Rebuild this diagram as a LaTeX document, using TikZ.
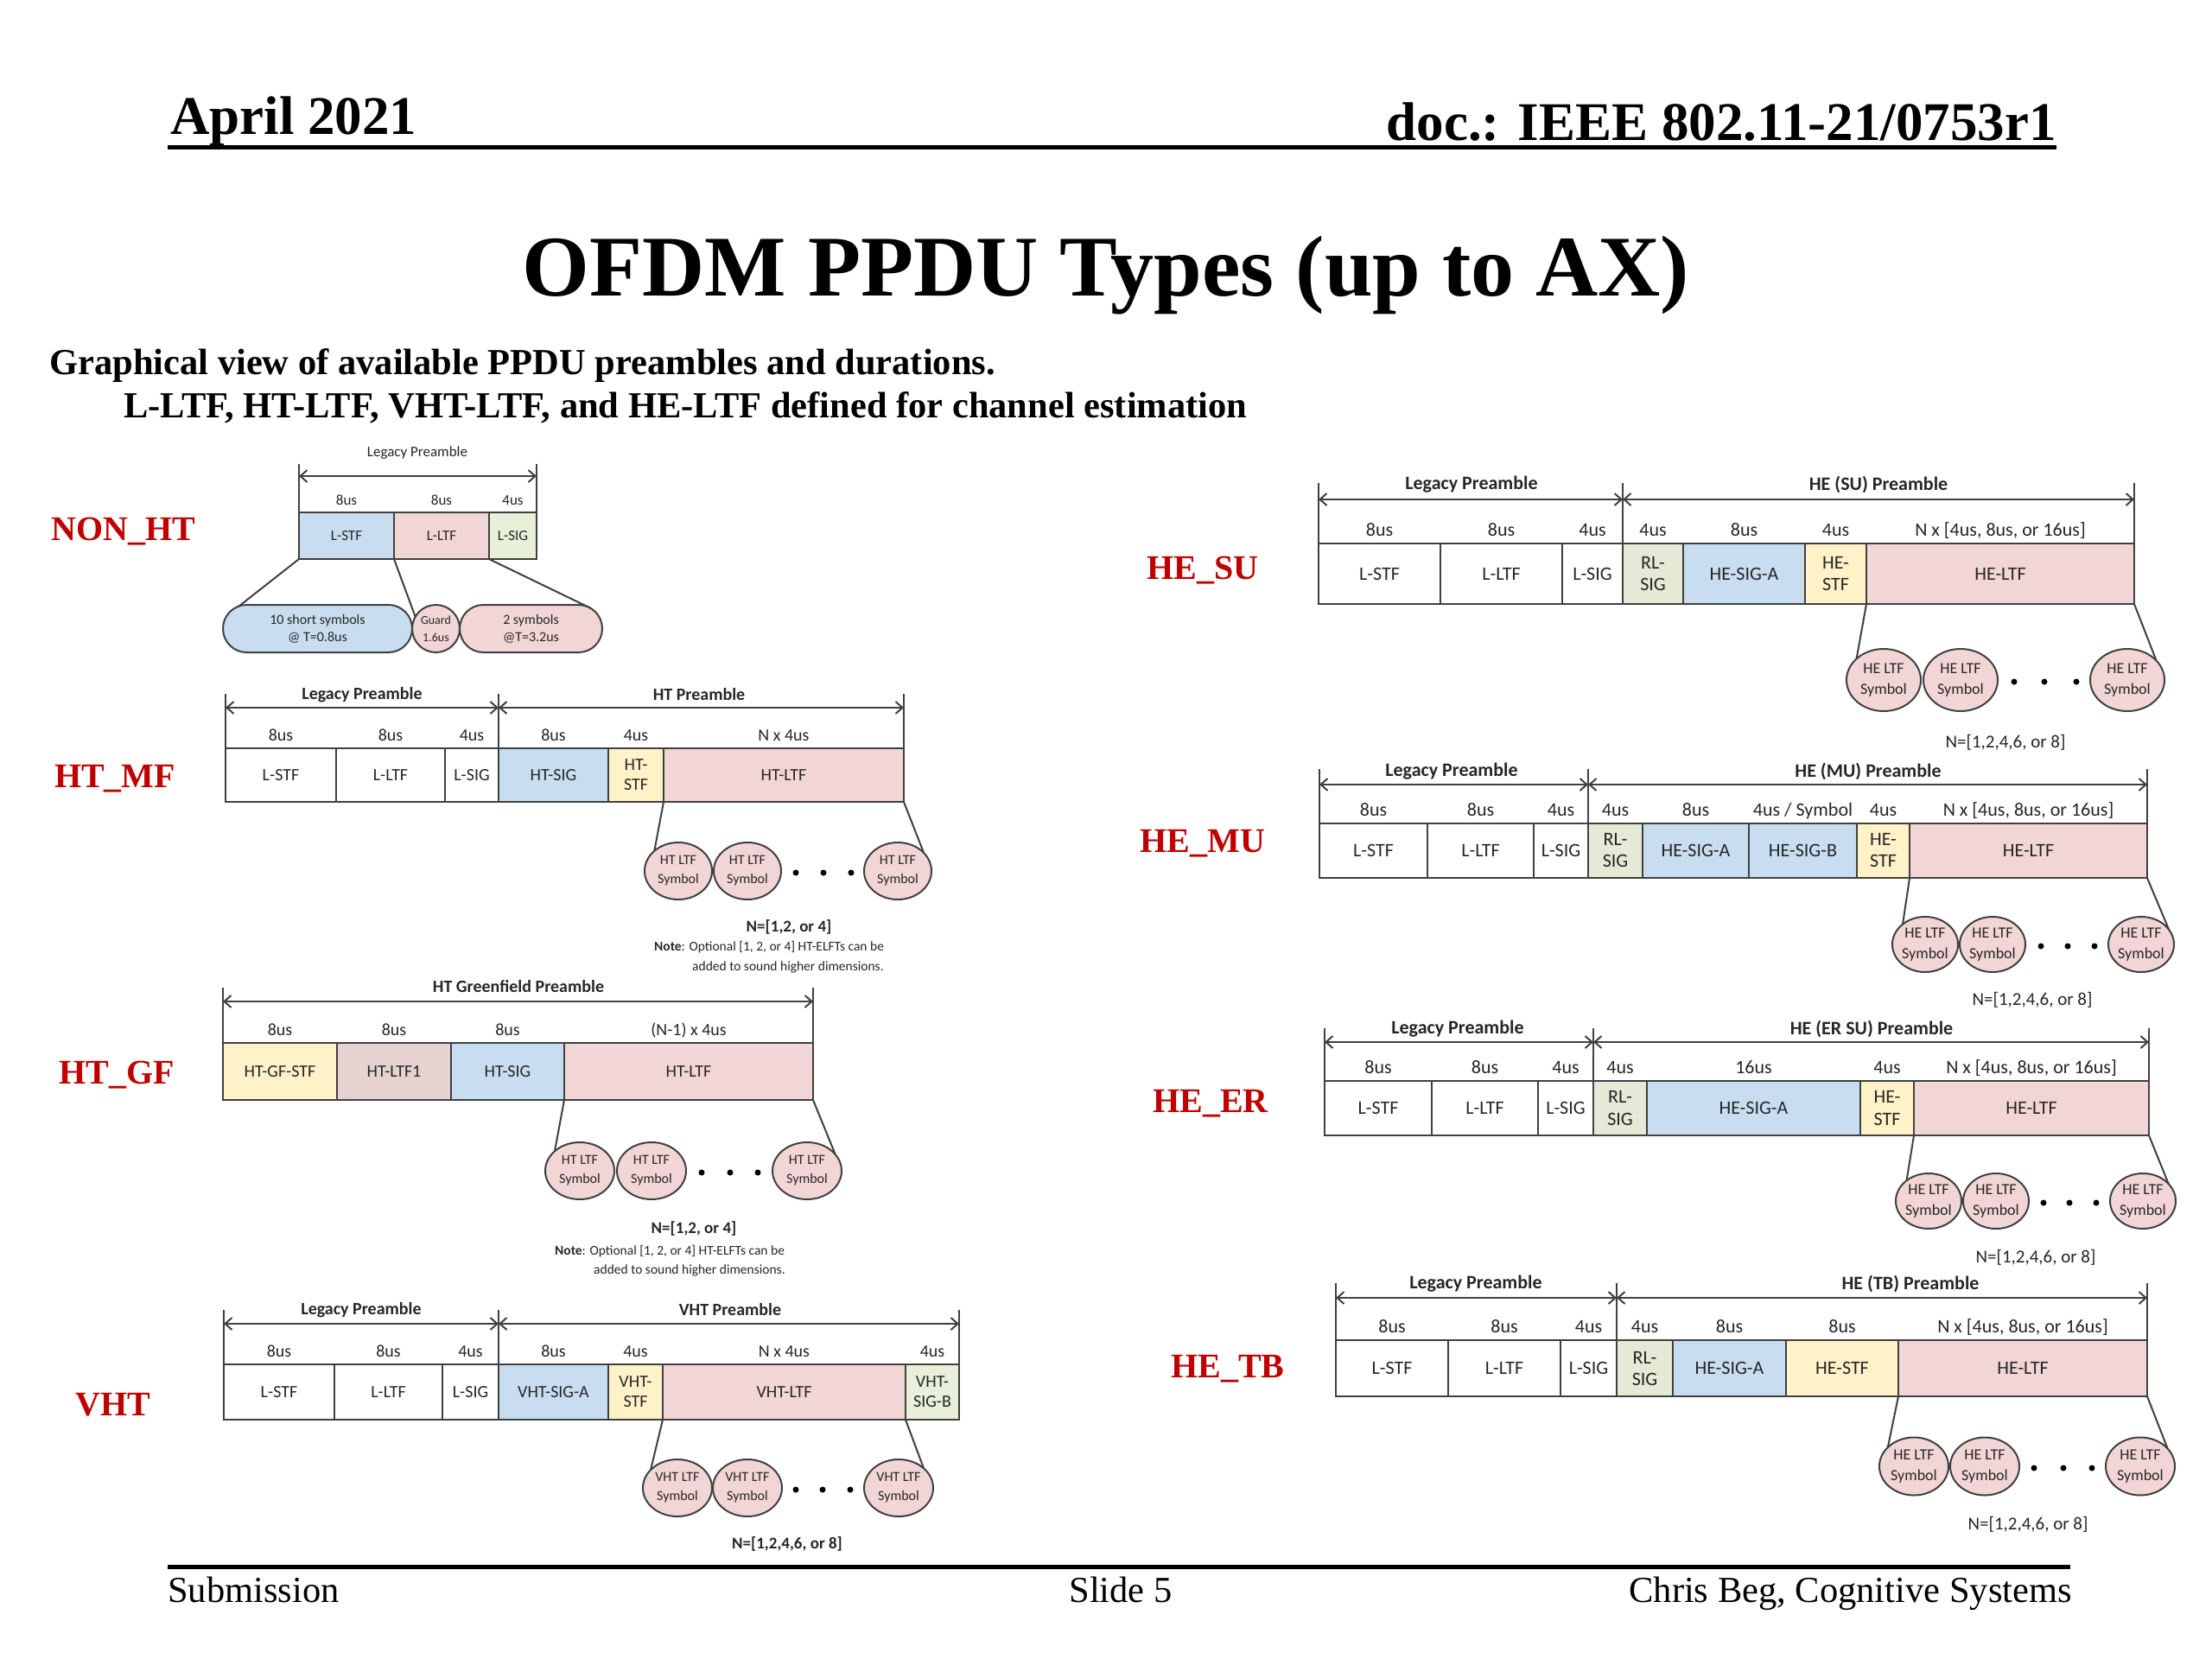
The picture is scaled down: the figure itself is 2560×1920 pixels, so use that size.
\documentclass[tikz,border=0pt]{standalone}
\usepackage{fontspec}
\setmainfont{Liberation Serif}
\newfontfamily\carlito{Carlito}
\usetikzlibrary{arrows.meta,shapes.geometric,shapes.misc}

\definecolor{cblue}{RGB}{200,222,240}
\definecolor{cpink}{RGB}{242,214,214}
\definecolor{cyellow}{RGB}{255,241,200}
\definecolor{cgreen}{RGB}{232,240,218}
\definecolor{crlsig}{RGB}{228,234,214}
\definecolor{crose}{RGB}{230,211,209}
\definecolor{cline}{RGB}{64,64,64}
\definecolor{ctext}{RGB}{38,38,38}
\definecolor{cred}{RGB}{192,0,0}

\newcommand{\fs}[2]{\fontsize{#1}{#2}\selectfont}

\tikzset{
 cellbox/.style={draw=cline,line width=2.5pt,rectangle,inner sep=0pt,outer sep=0pt,align=center,text=ctext,font=\carlito\fs{20}{23}},
 durlab/.style={anchor=base,inner sep=0pt,text=ctext,font=\carlito\fs{20}{24}},
 ptitle/.style={inner sep=0pt,text=ctext,font=\carlito\bfseries\fs{20}{24}},
 dimline/.style={draw=cline,line width=2pt,{Straight Barb[length=8pt,width=14pt]}-{Straight Barb[length=8pt,width=14pt]}},
 tickline/.style={draw=cline,line width=2pt},
 zoomline/.style={draw=cline,line width=2pt},
 symshape/.style={ellipse,draw=cline,line width=2pt,fill=cpink,inner sep=0pt,outer sep=0pt},
 symtext/.style={align=center,inner sep=0pt,text=ctext,font=\carlito\fs{16}{22}},
 dotmark/.style={circle,fill=black,inner sep=0pt,minimum size=7pt},
 nlab/.style={inner sep=0pt,text=ctext,font=\carlito\bfseries\fs{19}{23}},
 nlabhe/.style={inner sep=0pt,text=ctext,font=\carlito\fs{21}{24}},
 notelab/.style={anchor=base west,inner sep=0pt,text=ctext,font=\carlito\fs{15.5}{20}},
 typelab/.style={inner sep=0pt,text=cred,font=\bfseries\fs{40}{46}},
 stadium/.style={rounded rectangle,draw=cline,line width=2pt,inner sep=0pt,outer sep=0pt,align=center,text=ctext,font=\carlito\fs{16}{20}},
}

% name, x1, x2, y1, y2, style, text, duration
\newcommand{\pcell}[8]{%
  \node[cellbox,#6,minimum width={(#3-#2)*1pt},minimum height={(#5-#4)*1pt}] (#1) at ({(#2+#3)/2},{(#4+#5)/2}) {#7};
  \node[durlab] (#1-d) at ({(#2+#3)/2},{#4-9}) {#8};}
% name, x, y, w, h, first line
\newcommand{\symb}[6]{%
  \node[symshape,minimum width=#4pt,minimum height=#5pt] (#1) at (#2,#3) {};
  \node[symtext] (#1-t) at (#1) {#6\\Symbol};}

\begin{document}
\begin{tikzpicture}[x=1pt,y=-1pt]
\fill[white] (0,0) rectangle (2560,1920);
\useasboundingbox (0,0) rectangle (2560,1920);

% ---------------- header ----------------
\node[anchor=base west,inner sep=0pt,font=\bfseries\fs{63}{70}] (hdrdate) at (197,155) {April 2021};
\node[anchor=base east,inner sep=0pt,font=\bfseries\fs{63}{70}] (hdrdoc) at (2380,162) {doc.: IEEE 802.11-21/0753r1};
\coordinate (hdrL) at (194,170);
\coordinate (hdrR) at (2380,170);
\draw[line width=5pt] (hdrL) -- (hdrR);
\node[anchor=base,inner sep=0pt,font=\bfseries\fs{100}{110}] (title) at (1280,342) {OFDM PPDU Types (up to AX)};
\node[anchor=base west,inner sep=0pt,font=\bfseries\fs{42.5}{48}] (sub1) at (57,433) {Graphical view of available PPDU preambles and durations.};
\node[anchor=base west,inner sep=0pt,font=\bfseries\fs{42.5}{48}] (sub2) at (143,483) {L-LTF, HT-LTF, VHT-LTF, and HE-LTF defined for channel estimation};

% ---------------- footer ----------------
\coordinate (ftrL) at (194,1813);
\coordinate (ftrR) at (2396,1813);
\draw[line width=5pt] (ftrL) -- (ftrR);
\node[anchor=base west,inner sep=0pt,font=\fs{42.5}{48}] (ftr1) at (194,1854) {Submission};
\node[anchor=base,inner sep=0pt,font=\fs{42.5}{48}] (ftr2) at (1297,1854) {Slide 5};
\node[anchor=base east,inner sep=0pt,font=\fs{42.5}{48}] (ftr3) at (2398,1854) {Chris Beg, Cognitive Systems};

% ---------------- type labels ----------------
\node[typelab] (lbNONHT) at (143,615) {NON\_HT};
\node[typelab] (lbHTMF) at (133,901) {HT\_MF};
\node[typelab] (lbHTGF) at (135,1244) {HT\_GF};
\node[typelab] (lbVHT) at (131,1626) {VHT};
\node[typelab] (lbHESU) at (1392,660) {HE\_SU};
\node[typelab] (lbHEMU) at (1392,976) {HE\_MU};
\node[typelab] (lbHEER) at (1401,1277) {HE\_ER};
\node[typelab] (lbHETB) at (1421,1584) {HE\_TB};

% ================= NON_HT =================
\begin{scope}[cellbox/.append style={font=\carlito\fs{17}{20}},durlab/.append style={font=\carlito\fs{17}{20}}]
\node[inner sep=0pt,text=ctext,font=\carlito\fs{17}{20}] (nh-title) at (483,524) {Legacy Preamble};
\pcell{nh-lstf}{346}{456}{593}{647}{fill=cblue}{L-STF}{8us}
\pcell{nh-lltf}{456}{566}{593}{647}{fill=cpink}{L-LTF}{8us}
\pcell{nh-lsig}{566}{621}{593}{647}{fill=cgreen}{L-SIG}{4us}
\coordinate (nh-a1) at (346,551);
\coordinate (nh-a2) at (621,551);
\draw[dimline] (nh-a1) -- (nh-a2);
\coordinate (nh-t1) at (346,537);
\coordinate (nh-t2) at (621,537);
\draw[tickline] (nh-t1) -- (nh-lstf.north west);
\draw[tickline] (nh-t2) -- (nh-lsig.north east);
\node[stadium,fill=cblue,minimum width=219pt,minimum height=55pt] (nh-s1) at (367.5,727.5) {10 short symbols\\@ T=0.8us};
\node[circle,draw=cline,line width=2pt,fill=cpink,inner sep=0pt,outer sep=0pt,minimum size=55pt] (nh-g) at (504.5,727.5) {};
\node[inner sep=0pt,align=center,text=ctext,font=\carlito\fs{14}{20}] (nh-gt) at (nh-g) {Guard\\1.6us};
\node[stadium,fill=cpink,minimum width=165pt,minimum height=55pt] (nh-s2) at (614.5,727.5) {2 symbols\\@T=3.2us};
\draw[zoomline] (nh-lstf.south west) -- (nh-s1.164);
\draw[zoomline] (nh-lstf.south east) -- (nh-g.150);
\draw[zoomline] (nh-lltf.south east) -- (nh-s2.19);
\end{scope}

% ================= HT_MF =================
\node[ptitle] (mf-lp) at (419,804) {Legacy Preamble};
\node[ptitle] (mf-hp) at (809,804) {HT Preamble};
\pcell{mf-lstf}{261}{389}{866}{928}{fill=white}{L-STF}{8us}
\pcell{mf-lltf}{389}{515}{866}{928}{fill=white}{L-LTF}{8us}
\pcell{mf-lsig}{515}{577}{866}{928}{fill=white}{L-SIG}{4us}
\pcell{mf-hsig}{577}{704}{866}{928}{fill=cblue}{HT-SIG}{8us}
\pcell{mf-hstf}{704}{768}{866}{928}{fill=cyellow}{HT-\\STF}{4us}
\pcell{mf-hltf}{768}{1046}{866}{928}{fill=cpink}{HT-LTF}{N x 4us}
\coordinate (mf-a1) at (261,819);
\coordinate (mf-a2) at (577,819);
\coordinate (mf-a3) at (1046,819);
\draw[dimline] (mf-a1) -- (mf-a2);
\draw[dimline] (mf-a2) -- (mf-a3);
\coordinate (mf-t1) at (261,803);
\coordinate (mf-t2) at (577,803);
\coordinate (mf-t3) at (1046,803);
\draw[tickline] (mf-t1) -- (mf-lstf.north west);
\draw[tickline] (mf-t2) -- (mf-hsig.north west);
\draw[tickline] (mf-t3) -- (mf-hltf.north east);
\symb{mf-c1}{785}{1008}{78}{66}{HT LTF}
\symb{mf-c2}{865}{1008}{78}{66}{HT LTF}
\symb{mf-c3}{1039}{1008}{78}{66}{HT LTF}
\node[dotmark] (mf-d1) at (921,1010) {};
\node[dotmark] (mf-d2) at (953,1010) {};
\node[dotmark] (mf-d3) at (985,1010) {};
\draw[zoomline] (mf-hltf.south west) -- (mf-c1.140);
\draw[zoomline] (mf-hltf.south east) -- (mf-c3.35);
\node[nlab] (mf-n) at (913,1073) {N=[1,2, or 4]};
\node[notelab] (mf-note1) at (757,1100) {\textbf{Note}: Optional [1, 2, or 4] HT-ELFTs can be};
\node[notelab] (mf-note2) at (801,1123) {added to sound higher dimensions.};

% ================= HT_GF =================
\node[ptitle] (gf-p) at (600,1142) {HT Greenfield Preamble};
\pcell{gf-stf}{258}{390}{1207}{1273}{fill=cyellow}{HT-GF-STF}{8us}
\pcell{gf-ltf1}{390}{522}{1207}{1273}{fill=crose}{HT-LTF1}{8us}
\pcell{gf-sig}{522}{653}{1207}{1273}{fill=cblue}{HT-SIG}{8us}
\pcell{gf-ltf}{653}{941}{1207}{1273}{fill=cpink}{HT-LTF}{(N-1) x 4us}
\coordinate (gf-a1) at (258,1159);
\coordinate (gf-a2) at (941,1159);
\draw[dimline] (gf-a1) -- (gf-a2);
\coordinate (gf-t1) at (258,1143);
\coordinate (gf-t2) at (941,1143);
\draw[tickline] (gf-t1) -- (gf-stf.north west);
\draw[tickline] (gf-t2) -- (gf-ltf.north east);
\symb{gf-c1}{671}{1355}{80}{66}{HT LTF}
\symb{gf-c2}{754}{1355}{80}{66}{HT LTF}
\symb{gf-c3}{934}{1355}{80}{66}{HT LTF}
\node[dotmark] (gf-d1) at (812,1357) {};
\node[dotmark] (gf-d2) at (845,1357) {};
\node[dotmark] (gf-d3) at (877,1357) {};
\draw[zoomline] (gf-ltf.south west) -- (gf-c1.142);
\draw[zoomline] (gf-ltf.south east) -- (gf-c3.30);
\node[nlab] (gf-n) at (803,1422) {N=[1,2, or 4]};
\node[notelab] (gf-note1) at (642,1452) {\textbf{Note}: Optional [1, 2, or 4] HT-ELFTs can be};
\node[notelab] (gf-note2) at (687,1474) {added to sound higher dimensions.};

% ================= VHT =================
\node[ptitle] (vh-lp) at (418,1516) {Legacy Preamble};
\node[ptitle] (vh-vp) at (845,1516) {VHT Preamble};
\pcell{vh-lstf}{259}{387}{1579}{1643}{fill=white}{L-STF}{8us}
\pcell{vh-lltf}{387}{512}{1579}{1643}{fill=white}{L-LTF}{8us}
\pcell{vh-lsig}{512}{577}{1579}{1643}{fill=white}{L-SIG}{4us}
\pcell{vh-siga}{577}{704}{1579}{1643}{fill=cblue}{VHT-SIG-A}{8us}
\pcell{vh-stf}{704}{767}{1579}{1643}{fill=cyellow}{VHT-\\STF}{4us}
\pcell{vh-ltf}{767}{1048}{1579}{1643}{fill=cpink}{VHT-LTF}{N x 4us}
\pcell{vh-sigb}{1048}{1110}{1579}{1643}{fill=cgreen}{VHT-\\SIG-B}{4us}
\coordinate (vh-a1) at (259,1532);
\coordinate (vh-a2) at (577,1532);
\coordinate (vh-a3) at (1110,1532);
\draw[dimline] (vh-a1) -- (vh-a2);
\draw[dimline] (vh-a2) -- (vh-a3);
\coordinate (vh-t1) at (259,1516);
\coordinate (vh-t2) at (577,1516);
\coordinate (vh-t3) at (1110,1516);
\draw[tickline] (vh-t1) -- (vh-lstf.north west);
\draw[tickline] (vh-t2) -- (vh-siga.north west);
\draw[tickline] (vh-t3) -- (vh-sigb.north east);
\symb{vh-c1}{784}{1722}{80}{66}{VHT LTF}
\symb{vh-c2}{865}{1722}{80}{66}{VHT LTF}
\symb{vh-c3}{1040}{1722}{80}{66}{VHT LTF}
\node[dotmark] (vh-d1) at (921,1724) {};
\node[dotmark] (vh-d2) at (952,1724) {};
\node[dotmark] (vh-d3) at (984,1724) {};
\draw[zoomline] (vh-ltf.south west) -- (vh-c1.146);
\draw[zoomline] (vh-ltf.south east) -- (vh-c3.38);
\node[nlab] (vh-n) at (911,1787) {N=[1,2,4,6, or 8]};

% ================= HE diagrams =================
\begin{scope}[cellbox/.append style={font=\carlito\fs{22}{25}},durlab/.append style={font=\carlito\fs{22}{25}},ptitle/.append style={font=\carlito\bfseries\fs{22}{25}},symtext/.append style={font=\carlito\fs{18}{24}}]

% ---- HE_SU ----
\node[ptitle] (su-lp) at (1703,561) {Legacy Preamble};
\node[ptitle] (su-hp) at (2174,561) {HE (SU) Preamble};
\pcell{su-lstf}{1526}{1667}{629}{699}{fill=white}{L-STF}{8us}
\pcell{su-lltf}{1667}{1808}{629}{699}{fill=white}{L-LTF}{8us}
\pcell{su-lsig}{1808}{1878}{629}{699}{fill=white}{L-SIG}{4us}
\pcell{su-rl}{1878}{1948}{629}{699}{fill=crlsig}{RL-\\SIG}{4us}
\pcell{su-sa}{1948}{2089}{629}{699}{fill=cblue}{HE-SIG-A}{8us}
\pcell{su-stf}{2089}{2160}{629}{699}{fill=cyellow}{HE-\\STF}{4us}
\pcell{su-ltf}{2160}{2470}{629}{699}{fill=cpink}{HE-LTF}{N x [4us, 8us, or 16us]}
\coordinate (su-a1) at (1526,578);
\coordinate (su-a2) at (1878,578);
\coordinate (su-a3) at (2470,578);
\draw[dimline] (su-a1) -- (su-a2);
\draw[dimline] (su-a2) -- (su-a3);
\coordinate (su-t1) at (1526,559);
\coordinate (su-t2) at (1878,559);
\coordinate (su-t3) at (2470,559);
\draw[tickline] (su-t1) -- (su-lstf.north west);
\draw[tickline] (su-t2) -- (su-rl.north west);
\draw[tickline] (su-t3) -- (su-ltf.north east);
\symb{su-c1}{2180}{787}{86}{72}{HE LTF}
\symb{su-c2}{2269}{787}{86}{72}{HE LTF}
\symb{su-c3}{2462}{787}{86}{72}{HE LTF}
\node[dotmark] (su-d1) at (2331,789) {};
\node[dotmark] (su-d2) at (2366,789) {};
\node[dotmark] (su-d3) at (2403,789) {};
\draw[zoomline] (su-ltf.south west) -- (su-c1.142);
\draw[zoomline] (su-ltf.south east) -- (su-c3.34);
\node[nlabhe] (su-n) at (2321,859) {N=[1,2,4,6, or 8]};

% ---- HE_MU ----
\node[ptitle] (mu-lp) at (1680,893) {Legacy Preamble};
\node[ptitle] (mu-hp) at (2162,893) {HE (MU) Preamble};
\pcell{mu-lstf}{1527}{1652}{953}{1016}{fill=white}{L-STF}{8us}
\pcell{mu-lltf}{1652}{1775}{953}{1016}{fill=white}{L-LTF}{8us}
\pcell{mu-lsig}{1775}{1838}{953}{1016}{fill=white}{L-SIG}{4us}
\pcell{mu-rl}{1838}{1901}{953}{1016}{fill=crlsig}{RL-\\SIG}{4us}
\pcell{mu-sa}{1901}{2024}{953}{1016}{fill=cblue}{HE-SIG-A}{8us}
\pcell{mu-sb}{2024}{2149}{953}{1016}{fill=cblue}{HE-SIG-B}{4us / Symbol}
\pcell{mu-stf}{2149}{2210}{953}{1016}{fill=cyellow}{HE-\\STF}{4us}
\pcell{mu-ltf}{2210}{2485}{953}{1016}{fill=cpink}{HE-LTF}{N x [4us, 8us, or 16us]}
\coordinate (mu-a1) at (1527,908);
\coordinate (mu-a2) at (1838,908);
\coordinate (mu-a3) at (2485,908);
\draw[dimline] (mu-a1) -- (mu-a2);
\draw[dimline] (mu-a2) -- (mu-a3);
\coordinate (mu-t1) at (1527,890);
\coordinate (mu-t2) at (1838,890);
\coordinate (mu-t3) at (2485,890);
\draw[tickline] (mu-t1) -- (mu-lstf.north west);
\draw[tickline] (mu-t2) -- (mu-rl.north west);
\draw[tickline] (mu-t3) -- (mu-ltf.north east);
\symb{mu-c1}{2228}{1093}{76}{64}{HE LTF}
\symb{mu-c2}{2306}{1093}{76}{64}{HE LTF}
\symb{mu-c3}{2478}{1093}{76}{64}{HE LTF}
\node[dotmark] (mu-d1) at (2362,1095) {};
\node[dotmark] (mu-d2) at (2393,1095) {};
\node[dotmark] (mu-d3) at (2424,1095) {};
\draw[zoomline] (mu-ltf.south west) -- (mu-c1.138);
\draw[zoomline] (mu-ltf.south east) -- (mu-c3.28);
\node[nlabhe] (mu-n) at (2352,1157) {N=[1,2,4,6, or 8]};

% ---- HE_ER ----
\node[ptitle] (er-lp) at (1687,1191) {Legacy Preamble};
\node[ptitle] (er-hp) at (2166,1191) {HE (ER SU) Preamble};
\pcell{er-lstf}{1533}{1657}{1251}{1314}{fill=white}{L-STF}{8us}
\pcell{er-lltf}{1657}{1780}{1251}{1314}{fill=white}{L-LTF}{8us}
\pcell{er-lsig}{1780}{1844}{1251}{1314}{fill=white}{L-SIG}{4us}
\pcell{er-rl}{1844}{1906}{1251}{1314}{fill=crlsig}{RL-\\SIG}{4us}
\pcell{er-sa}{1906}{2153}{1251}{1314}{fill=cblue}{HE-SIG-A}{16us}
\pcell{er-stf}{2153}{2215}{1251}{1314}{fill=cyellow}{HE-\\STF}{4us}
\pcell{er-ltf}{2215}{2487}{1251}{1314}{fill=cpink}{HE-LTF}{N x [4us, 8us, or 16us]}
\coordinate (er-a1) at (1533,1206);
\coordinate (er-a2) at (1844,1206);
\coordinate (er-a3) at (2487,1206);
\draw[dimline] (er-a1) -- (er-a2);
\draw[dimline] (er-a2) -- (er-a3);
\coordinate (er-t1) at (1533,1190);
\coordinate (er-t2) at (1844,1190);
\coordinate (er-t3) at (2487,1190);
\draw[tickline] (er-t1) -- (er-lstf.north west);
\draw[tickline] (er-t2) -- (er-rl.north west);
\draw[tickline] (er-t3) -- (er-ltf.north east);
\symb{er-c1}{2232}{1390}{76}{64}{HE LTF}
\symb{er-c2}{2310}{1390}{76}{64}{HE LTF}
\symb{er-c3}{2480}{1390}{76}{64}{HE LTF}
\node[dotmark] (er-d1) at (2365,1392) {};
\node[dotmark] (er-d2) at (2395,1392) {};
\node[dotmark] (er-d3) at (2426,1392) {};
\draw[zoomline] (er-ltf.south west) -- (er-c1.137);
\draw[zoomline] (er-ltf.south east) -- (er-c3.34);
\node[nlabhe] (er-n) at (2356,1455) {N=[1,2,4,6, or 8]};

% ---- HE_TB ----
\node[ptitle] (tb-lp) at (1708,1486) {Legacy Preamble};
\node[ptitle] (tb-hp) at (2211,1486) {HE (TB) Preamble};
\pcell{tb-lstf}{1546}{1676}{1551}{1616}{fill=white}{L-STF}{8us}
\pcell{tb-lltf}{1676}{1806}{1551}{1616}{fill=white}{L-LTF}{8us}
\pcell{tb-lsig}{1806}{1871}{1551}{1616}{fill=white}{L-SIG}{4us}
\pcell{tb-rl}{1871}{1936}{1551}{1616}{fill=crlsig}{RL-\\SIG}{4us}
\pcell{tb-sa}{1936}{2067}{1551}{1616}{fill=cblue}{HE-SIG-A}{8us}
\pcell{tb-stf}{2067}{2197}{1551}{1616}{fill=cyellow}{HE-STF}{8us}
\pcell{tb-ltf}{2197}{2485}{1551}{1616}{fill=cpink}{HE-LTF}{N x [4us, 8us, or 16us]}
\coordinate (tb-a1) at (1546,1502);
\coordinate (tb-a2) at (1871,1502);
\coordinate (tb-a3) at (2485,1502);
\draw[dimline] (tb-a1) -- (tb-a2);
\draw[dimline] (tb-a2) -- (tb-a3);
\coordinate (tb-t1) at (1546,1485);
\coordinate (tb-t2) at (1871,1485);
\coordinate (tb-t3) at (2485,1485);
\draw[tickline] (tb-t1) -- (tb-lstf.north west);
\draw[tickline] (tb-t2) -- (tb-rl.north west);
\draw[tickline] (tb-t3) -- (tb-ltf.north east);
\symb{tb-c1}{2215}{1697}{80}{67}{HE LTF}
\symb{tb-c2}{2297}{1697}{80}{67}{HE LTF}
\symb{tb-c3}{2477}{1697}{80}{67}{HE LTF}
\node[dotmark] (tb-d1) at (2354,1699) {};
\node[dotmark] (tb-d2) at (2388,1699) {};
\node[dotmark] (tb-d3) at (2421,1699) {};
\draw[zoomline] (tb-ltf.south west) -- (tb-c1.144);
\draw[zoomline] (tb-ltf.south east) -- (tb-c3.33);
\node[nlabhe] (tb-n) at (2347,1764) {N=[1,2,4,6, or 8]};
\end{scope}

\end{tikzpicture}
\end{document}
